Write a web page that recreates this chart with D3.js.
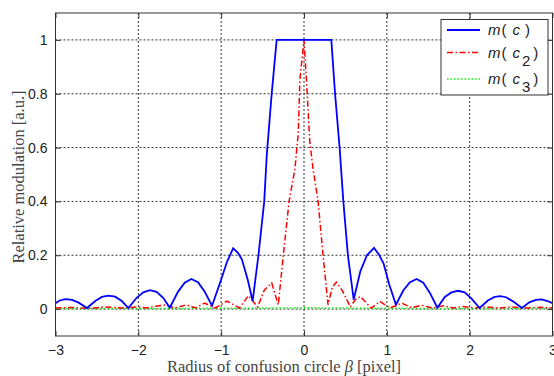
<!DOCTYPE html>
<html>
<head>
<meta charset="utf-8">
<script src="https://cdn.jsdelivr.net/npm/d3@7"></script>
<style>
  body { margin: 0; background: #fff; }
  svg { display: block; }
  .tick text { font-family: "Liberation Sans", Arial, sans-serif; font-size: 14px; fill: #222; }
</style>
</head>
<body>
<div class="chart"></div>
<script>
const margin = { top: 13, right: 1.5, bottom: 40, left: 55.5 };
const W = 554, H = 376;
const width = W - margin.left - margin.right;
const height = H - margin.top - margin.bottom;

// m(c) - blue solid
const xBlue = [-3.00, -2.95, -2.88, -2.80, -2.72, -2.62, -2.52, -2.44, -2.36, -2.28, -2.20, -2.12,
  -2.02, -1.94, -1.86, -1.78, -1.70, -1.62, -1.52, -1.44, -1.36, -1.28, -1.20, -1.11,
  -1.00, -0.93, -0.855, -0.80, -0.75, -0.68, -0.62, -0.55, -0.48, -0.45, -0.39, -0.33,
  0.33, 0.375, 0.43, 0.475, 0.53, 0.60, 0.68, 0.76, 0.845, 0.90, 0.96, 1.03, 1.11,
  1.20, 1.28, 1.36, 1.44, 1.52, 1.61, 1.70, 1.78, 1.86, 1.94, 2.02, 2.12,
  2.22, 2.30, 2.37, 2.44, 2.54, 2.63, 2.72, 2.80, 2.87, 2.94, 3.00];
const yBlue = [0.022, 0.032, 0.037, 0.034, 0.024, 0.004, 0.030, 0.045, 0.050, 0.046, 0.030, 0.004,
  0.042, 0.062, 0.070, 0.064, 0.042, 0.005, 0.065, 0.098, 0.112, 0.100, 0.065, 0.012,
  0.110, 0.175, 0.226, 0.210, 0.185, 0.110, 0.030, 0.20, 0.40, 0.57, 0.80, 1.00,
  1.00, 0.80, 0.60, 0.40, 0.20, 0.035, 0.140, 0.200, 0.227, 0.205, 0.170, 0.090, 0.016,
  0.070, 0.100, 0.112, 0.098, 0.060, 0.005, 0.045, 0.062, 0.068, 0.062, 0.040, 0.004,
  0.032, 0.045, 0.048, 0.044, 0.025, 0.004, 0.025, 0.034, 0.036, 0.030, 0.022];

// m(c2) - red dash-dot
const xRed = [-3.00, -2.80, -2.60, -2.40, -2.20, -2.00, -1.90, -1.80, -1.68, -1.56, -1.42, -1.31,
  -1.20, -1.07, -0.93, -0.78, -0.67, -0.56, -0.48, -0.39, -0.31, -0.25, -0.18, -0.11,
  -0.07, -0.05, 0.00, 0.03, 0.07, 0.11, 0.17, 0.23, 0.29, 0.34, 0.39, 0.46, 0.56,
  0.62, 0.68, 0.81, 0.92, 1.04, 1.18, 1.30, 1.42, 1.55, 1.68, 1.80, 1.92, 2.05,
  2.20, 2.35, 2.50, 2.70, 2.85, 3.00];
const yRed = [0.004, 0.006, 0.003, 0.008, 0.004, 0.008, 0.004, 0.010, 0.015, 0.004, 0.016, 0.004,
  0.022, 0.004, 0.030, 0.004, 0.050, 0.008, 0.070, 0.097, 0.016, 0.20, 0.40, 0.52,
  0.65, 0.85, 1.00, 0.85, 0.62, 0.52, 0.40, 0.20, 0.016, 0.080, 0.100, 0.070, 0.008,
  0.035, 0.047, 0.004, 0.028, 0.004, 0.022, 0.005, 0.014, 0.004, 0.012, 0.004, 0.010, 0.004,
  0.008, 0.004, 0.008, 0.004, 0.007, 0.004];

// m(c3) - green dotted
const xGreen = [-3.0, -2.0, -1.0, -0.3, 0.0, 0.3, 1.0, 2.0, 3.0];
const yGreen = [0.002, 0.002, 0.003, 0.004, 0.005, 0.004, 0.003, 0.002, 0.002];

const xTicks = [-3, -2, -1, 0, 1, 2, 3];
const yTicks = [0, 0.2, 0.4, 0.6, 0.8, 1];

const svg = d3.select(".chart").append("svg")
    .attr("width", W)
    .attr("height", H)
    .append("g")
    .attr("transform", `translate(${margin.left},${margin.top})`);

const x = d3.scaleLinear().domain([-3, 3]).range([0, width]);
const y = d3.scaleLinear().domain([-0.1, 1.1]).range([height, 0]);

// grid
svg.append("g").selectAll("line")
    .data(xTicks.slice(1, -1))
    .enter().append("line")
    .attr("x1", d => x(d)).attr("x2", d => x(d))
    .attr("y1", 0).attr("y2", height)
    .attr("stroke", "#333").attr("stroke-width", 1)
    .attr("stroke-dasharray", "2,2");

svg.append("g").selectAll("line")
    .data(yTicks)
    .enter().append("line")
    .attr("x1", 0).attr("x2", width)
    .attr("y1", d => y(d)).attr("y2", d => y(d))
    .attr("stroke", "#333").attr("stroke-width", 1)
    .attr("stroke-dasharray", "2,2");

// axes
const xAxis = svg.append("g")
    .attr("transform", `translate(0,${height})`)
    .call(d3.axisBottom(x).tickValues(xTicks).tickSize(-5).tickPadding(9)
        .tickFormat(d => d < 0 ? "\u2212" + Math.abs(d) : d));
xAxis.select(".domain").remove();
xAxis.selectAll("line").attr("stroke", "#333");

const yAxis = svg.append("g")
    .call(d3.axisLeft(y).tickValues(yTicks).tickSize(-5).tickPadding(8).tickFormat(d3.format("~g")));
yAxis.select(".domain").remove();
yAxis.selectAll("line").attr("stroke", "#333");

// top/right inward ticks
svg.append("g").call(d3.axisTop(x).tickValues(xTicks).tickSize(-5).tickFormat(""))
    .call(g => g.select(".domain").remove())
    .selectAll("line").attr("stroke", "#333");
svg.append("g").attr("transform", `translate(${width},0)`)
    .call(d3.axisRight(y).tickValues(yTicks).tickSize(-5).tickFormat(""))
    .call(g => g.select(".domain").remove())
    .selectAll("line").attr("stroke", "#333");

// lines
const line = d3.line().x(d => x(d[0])).y(d => y(d[1]));
const zip = (a, b) => a.map((v, i) => [v, b[i]]);

svg.append("path")
    .datum(zip(xGreen, yGreen))
    .attr("d", line)
    .attr("fill", "none")
    .attr("stroke", "#00ff00")
    .attr("stroke-width", 1.5)
    .attr("stroke-dasharray", "1.5,2");

svg.append("path")
    .datum(zip(xRed, yRed))
    .attr("d", line)
    .attr("fill", "none")
    .attr("stroke", "#ff0000")
    .attr("stroke-width", 1.5)
    .attr("stroke-dasharray", "6,2.5,1.5,2.5");

svg.append("path")
    .datum(zip(xBlue, yBlue))
    .attr("d", line)
    .attr("fill", "none")
    .attr("stroke", "#0000ff")
    .attr("stroke-width", 1.8);

// frame
svg.append("rect")
    .attr("width", width).attr("height", height)
    .attr("fill", "none").attr("stroke", "#333").attr("stroke-width", 1);

// legend
const legend = svg.append("g").attr("transform", `translate(${441 - margin.left},${19.5 - margin.top})`);
legend.append("rect")
    .attr("width", 107).attr("height", 75.5)
    .attr("fill", "#fff").attr("stroke", "#333").attr("stroke-width", 1);

const legendItems = [
  { sub: "", color: "#0000ff", dash: null, w: 1.8, ly: 10.5 },
  { sub: "2", color: "#ff0000", dash: "6,2.5,1.5,2.5", w: 1.5, ly: 33 },
  { sub: "3", color: "#00ff00", dash: "1.5,2", w: 1.5, ly: 59.5 }
];

legendItems.forEach(it => {
  legend.append("line")
      .attr("x1", 6).attr("x2", 39)
      .attr("y1", it.ly).attr("y2", it.ly)
      .attr("stroke", it.color).attr("stroke-width", it.w)
      .attr("stroke-dasharray", it.dash);
  const t = legend.append("text")
      .attr("x", 47).attr("y", it.ly + 5)
      .style("font-family", "Liberation Sans, Arial, sans-serif")
      .style("font-size", "15px").style("fill", "#222");
  t.append("tspan").style("font-style", "italic").text("m");
  t.append("tspan").attr("dx", 1).text("(");
  t.append("tspan").attr("dx", 6).style("font-style", "italic").text("c");
  if (it.sub) {
    t.append("tspan").attr("dx", 2).attr("dy", 8).text(it.sub);
    t.append("tspan").attr("dx", 3).attr("dy", -8).text(")");
  } else {
    t.append("tspan").attr("dx", 5).text(")");
  }
});

// axis labels
const xl = svg.append("text")
    .attr("x", 284 - margin.left)
    .attr("y", height + 36)
    .attr("text-anchor", "middle")
    .style("font-family", "Liberation Serif, Times New Roman, serif")
    .style("font-size", "16.5px")
    .style("fill", "#444");
xl.append("tspan").text("Radius of confusion circle ");
xl.append("tspan").style("font-style", "italic").text("\u03b2");
xl.append("tspan").text(" [pixel]");

svg.append("text")
    .attr("transform", "rotate(-90)")
    .attr("x", -(177 - margin.top))
    .attr("y", -margin.left + 24)
    .attr("text-anchor", "middle")
    .style("font-family", "Liberation Serif, Times New Roman, serif")
    .style("font-size", "16.5px")
    .style("fill", "#444")
    .text("Relative modulation [a.u.]");
</script>
</body>
</html>
